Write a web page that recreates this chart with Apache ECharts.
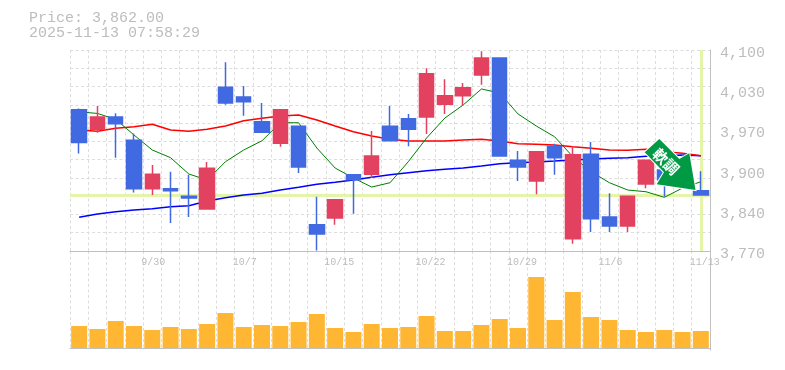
<!DOCTYPE html>
<html>
<head>
<meta charset="utf-8">
<style>html,body{margin:0;padding:0;background:#fff}#c{width:785px;height:370px}</style>
<script src="https://cdn.jsdelivr.net/npm/echarts@6/dist/echarts.min.js"></script>
</head>
<body>
<div id="c"></div>
<script>
const dates = ['9/24','9/25','9/26','9/29','9/30','10/1','10/2','10/3','10/6','10/7','10/8','10/9','10/10','10/14','10/15','10/16','10/17','10/20','10/21','10/22','10/23','10/24','10/27','10/28','10/29','10/30','10/31','11/4','11/5','11/6','11/7','11/10','11/11','11/12','11/13'];
// open, close, low, high
const candles = [
[4002,3948,3930,4004],[3970,3990,3964,4008],[3990,3979,3923,3996],[3952,3872,3866,3963],[3872,3896,3862,3911],
[3872,3869,3816,3900],[3860,3857,3826,3895],[3839,3906,3839,3916],[4039,4013,4010,4080],[4023,4015,3992,4041],
[3982,3965,3965,4013],[3947,4002,3941,4002],[3975,3908,3898,3975],[3813,3798,3771,3859],[3824,3854,3813,3854],
[3895,3887,3831,3896],[3896,3926,3890,3967],[3975,3951,3951,4008],[3987,3970,3942,3995],[3990,4061,3962,4070],
[4011,4025,3995,4052],[4025,4038,4008,4046],[4059,4087,4043,4098],[4087,3926,3926,4087],[3919,3908,3885,3934],
[3885,3933,3863,3933],[3942,3923,3895,3946],[3790,3928,3782,3942],[3929,3823,3801,3949],[3826,3811,3801,3865],
[3811,3860,3801,3860],[3880,3919,3873,3919],[3903,3887,3859,3920],[3919,3895,3885,3930],[3869,3862,3862,3901]];
const maShort = [3998.6,3995.8,3986.2,3960.4,3935.8,3923.2,3896.4,3886.5,3916.6,3935.8,3951,3980.6,3980.6,3939.1,3906.2,3889.8,3875,3882.1,3916.6,3955.5,3988.3,4009.7,4036,4029.4,3995,3975.2,3957.6,3924.8,3900.2,3882.1,3870.1,3867.3,3858.1,3873.4,3883.7];
const maMid = [3968.6,3966.5,3971.4,3974,3978,3968.6,3966.5,3969.8,3975.2,3983.9,3987.9,3991.6,3993.3,3985,3975.2,3965.8,3958.8,3953.4,3950.6,3950.6,3950.6,3952.2,3953.4,3950.6,3946.1,3945.2,3944,3941.2,3938.6,3935.8,3935.3,3937,3933,3930.4,3926.4];
const maLong = [3825.3,3830.7,3834.5,3837.3,3839.4,3842.7,3844.3,3852,3857.5,3862,3864.7,3870.1,3874.6,3879.5,3882.8,3886.5,3891,3895.2,3898.5,3901.8,3904.1,3906.2,3909.5,3913.3,3915,3916.1,3917.7,3919.4,3921,3922.2,3923.2,3925.5,3926.4,3927.6,3926.4];
const volumes = [22,19,27,22,18,21,19,24,35,21,23,22,26,34,20,16,24,20,21,32,17,17,23,29,20,71,28,56,31,28,18,16,18,16,17];
const priceTicks = ['3,770','3,840','3,900','3,970','4,030','4,100'];
const lastPrice = 3862;
const lastDate = '11/13';
const titleLines = ['Price: 3,862.00','2025-11-13 07:58:29'];
const arrowWord = '軟調';

const GREY = '#bdbdbd', AXIS = '#c0c0c0', GRID = '#dddddd', BAND = '#e4f5a9';
const MONO = '"Liberation Mono", monospace';
const arrowPoints = [[659.3,139],[679.3,159],[689.3,153.3],[695.5,190],[656.7,184.3],[664,172.3],[644.7,152.3]];
const chart = echarts.init(document.getElementById('c'), null, {renderer:'canvas'});
const dash = {show:true, lineStyle:{color:GRID, width:1, type:[3,2.5]}};
chart.setOption({
  animation:false,
  backgroundColor:'#fff',
  grid:[{left:70,top:50,width:640,height:201},{left:70,top:251,width:640,height:99},{left:70,top:53,width:640,height:201}],
  title:{text:titleLines.join('\n'),left:29,top:11,padding:0,textStyle:{fontFamily:MONO,fontSize:15,fontWeight:'normal',color:GREY,lineHeight:15}},
  xAxis:[
    {type:'category',gridIndex:0,data:dates,boundaryGap:true,
     axisLine:{show:true,lineStyle:{color:AXIS,width:1}},axisTick:{show:false},splitLine:{...dash,interval:0},
     axisLabel:{interval:(i)=>i%5===4,align:'left',padding:[0,0,0,-11],margin:6,hideOverlap:false,fontFamily:MONO,fontSize:10,color:GREY}},
    {type:'category',gridIndex:1,data:dates,boundaryGap:true,
     axisLine:{show:true,lineStyle:{color:AXIS,width:1}},axisTick:{show:false},axisLabel:{show:false},splitLine:{...dash,interval:0}},
    {type:'category',gridIndex:2,data:dates,show:false}
  ],
  yAxis:[
    {type:'value',gridIndex:0,position:'right',min:3770,max:4100,axisLine:{show:false},axisTick:{show:false},axisLabel:{show:false},splitLine:{show:false}},
    {type:'value',gridIndex:0,position:'right',min:0,max:11,interval:1,axisLine:{show:true,lineStyle:{color:AXIS,width:1}},axisTick:{show:false},axisLabel:{show:false},splitLine:dash},
    {type:'value',gridIndex:2,position:'right',min:0,max:5,interval:1,axisLine:{show:false},axisTick:{show:false},splitLine:{show:false},
     axisLabel:{show:true,margin:10,fontFamily:MONO,fontSize:15,color:GREY,formatter:(v)=>priceTicks[v]}},
    {type:'value',gridIndex:1,position:'right',min:-2,max:97,axisLine:{show:true,lineStyle:{color:AXIS,width:1}},axisTick:{show:false},axisLabel:{show:false},splitLine:{show:false}}
  ],
  series:[
    {type:'line',xAxisIndex:0,yAxisIndex:0,data:[],z:1,silent:true,
     markLine:{z:1,silent:true,symbol:'none',label:{show:false},animation:false,lineStyle:{color:BAND,width:3,type:'solid'},
       data:[{yAxis:lastPrice},{xAxis:lastDate}]}},
    {type:'line',xAxisIndex:0,yAxisIndex:0,data:maLong,z:2,symbol:'none',lineStyle:{color:'#0000ff',width:1.5}},
    {type:'line',xAxisIndex:0,yAxisIndex:0,data:maMid,z:2,symbol:'none',lineStyle:{color:'#ff0000',width:1.5}},
    {type:'line',xAxisIndex:0,yAxisIndex:0,data:maShort,z:2,symbol:'none',lineStyle:{color:'#008000',width:1}},
    {type:'candlestick',xAxisIndex:0,yAxisIndex:0,data:candles,z:3,barWidth:15,
     itemStyle:{color:'#e2425f',color0:'#4169e1',borderColor:'#e2425f',borderColor0:'#4169e1',borderWidth:1.5}},
    {type:'bar',xAxisIndex:1,yAxisIndex:3,data:volumes,barWidth:16,itemStyle:{color:'#ffb733'},z:3}
  ],
  graphic:[
    {type:'polygon',z:99,shape:{points:arrowPoints},style:{fill:'#fff',stroke:'#ffffff',lineWidth:2}},
    {type:'polygon',z:100,shape:{points:arrowPoints},style:{fill:'#009944'}},
    {type:'text',z:101,x:666,y:161.5,rotation:-Math.PI/4,
     style:{text:arrowWord,fill:'#fff',font:'bold 15px "Noto Sans CJK JP"',align:'center',verticalAlign:'middle'}}
  ]
});
</script>
</body>
</html>
